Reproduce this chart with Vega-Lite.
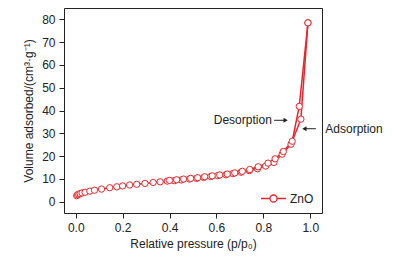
{
  "$schema": "https://vega.github.io/schema/vega-lite/v6.json",
  "width": 258,
  "height": 205,
  "autosize": {"type": "none"},
  "padding": {"left": 64, "top": 8, "right": 89, "bottom": 45},
  "background": "white",
  "config": {
    "font": "Liberation Sans",
    "view": {"stroke": "#222", "strokeWidth": 1},
    "axis": {
      "grid": false,
      "domain": false,
      "tickColor": "#222",
      "tickSize": 5,
      "labelOverlap": false,
      "labelFont": "Liberation Sans",
      "labelFontSize": 12,
      "labelColor": "#222",
      "titleFont": "Liberation Sans",
      "titleFontSize": 12,
      "titleFontWeight": "normal",
      "titleColor": "#222"
    },
    "axisY": {"tickCount": 9}
  },
  "datasets": {
    "iso": [
      {"b": "ads", "i": 1, "p": 0.004, "v": 2.6},
      {"b": "ads", "i": 2, "p": 0.008, "v": 3.0},
      {"b": "ads", "i": 3, "p": 0.013, "v": 3.3},
      {"b": "ads", "i": 4, "p": 0.019, "v": 3.5},
      {"b": "ads", "i": 5, "p": 0.027, "v": 3.8},
      {"b": "ads", "i": 6, "p": 0.04, "v": 4.1},
      {"b": "ads", "i": 7, "p": 0.06, "v": 4.6},
      {"b": "ads", "i": 8, "p": 0.08, "v": 5.0},
      {"b": "ads", "i": 9, "p": 0.11, "v": 5.5},
      {"b": "ads", "i": 10, "p": 0.145, "v": 6.1},
      {"b": "ads", "i": 11, "p": 0.175, "v": 6.5},
      {"b": "ads", "i": 12, "p": 0.2, "v": 6.9},
      {"b": "ads", "i": 13, "p": 0.23, "v": 7.3},
      {"b": "ads", "i": 14, "p": 0.26, "v": 7.6},
      {"b": "ads", "i": 15, "p": 0.295, "v": 8.0},
      {"b": "ads", "i": 16, "p": 0.33, "v": 8.4},
      {"b": "ads", "i": 17, "p": 0.36, "v": 8.7},
      {"b": "ads", "i": 18, "p": 0.39, "v": 9.0},
      {"b": "ads", "i": 19, "p": 0.42, "v": 9.2},
      {"b": "ads", "i": 20, "p": 0.45, "v": 9.5},
      {"b": "ads", "i": 21, "p": 0.485, "v": 9.9},
      {"b": "ads", "i": 22, "p": 0.515, "v": 10.2},
      {"b": "ads", "i": 23, "p": 0.545, "v": 10.6},
      {"b": "ads", "i": 24, "p": 0.575, "v": 11.0},
      {"b": "ads", "i": 25, "p": 0.605, "v": 11.4},
      {"b": "ads", "i": 26, "p": 0.64, "v": 11.8},
      {"b": "ads", "i": 27, "p": 0.67, "v": 12.3},
      {"b": "ads", "i": 28, "p": 0.705, "v": 12.9},
      {"b": "ads", "i": 29, "p": 0.74, "v": 13.6},
      {"b": "ads", "i": 30, "p": 0.775, "v": 14.4},
      {"b": "ads", "i": 31, "p": 0.81, "v": 15.6},
      {"b": "ads", "i": 32, "p": 0.845, "v": 17.2},
      {"b": "ads", "i": 33, "p": 0.88, "v": 20.8},
      {"b": "ads", "i": 34, "p": 0.918, "v": 25.2},
      {"b": "ads", "i": 35, "p": 0.96, "v": 36.2},
      {"b": "ads", "i": 36, "p": 0.99, "v": 78.5},
      {"b": "des", "i": 1, "p": 0.99, "v": 78.5},
      {"b": "des", "i": 2, "p": 0.953, "v": 41.8},
      {"b": "des", "i": 3, "p": 0.923, "v": 26.5},
      {"b": "des", "i": 4, "p": 0.885, "v": 22.0},
      {"b": "des", "i": 5, "p": 0.85, "v": 18.8},
      {"b": "des", "i": 6, "p": 0.82, "v": 16.9},
      {"b": "des", "i": 7, "p": 0.778, "v": 15.3},
      {"b": "des", "i": 8, "p": 0.742, "v": 14.1},
      {"b": "des", "i": 9, "p": 0.71, "v": 13.3},
      {"b": "des", "i": 10, "p": 0.678, "v": 12.6},
      {"b": "des", "i": 11, "p": 0.646, "v": 12.1},
      {"b": "des", "i": 12, "p": 0.614, "v": 11.7},
      {"b": "des", "i": 13, "p": 0.582, "v": 11.3},
      {"b": "des", "i": 14, "p": 0.55, "v": 10.9},
      {"b": "des", "i": 15, "p": 0.52, "v": 10.5},
      {"b": "des", "i": 16, "p": 0.49, "v": 10.2},
      {"b": "des", "i": 17, "p": 0.46, "v": 9.9},
      {"b": "des", "i": 18, "p": 0.43, "v": 9.6},
      {"b": "des", "i": 19, "p": 0.4, "v": 9.3}
    ],
    "des": [
      {"t": "Desorption", "p": 0.836, "v": 35.7, "p1": 0.846, "p2": 0.895}
    ],
    "ads": [
      {"t": "Adsorption", "p": 1.064, "v": 32.0, "p1": 1.024, "p2": 0.975}
    ]
  },
  "layer": [
    {
      "data": {"name": "iso"},
      "mark": {"type": "line", "strokeWidth": 1.5},
      "encoding": {
        "x": {
          "field": "p", "type": "quantitative",
          "scale": {"domain": [-0.05, 1.05], "nice": false, "zero": false},
          "axis": {"values": [0, 0.2, 0.4, 0.6, 0.8, 1.0], "format": ".1f", "title": "Relative pressure (p/p₀)", "labelPadding": 4, "titlePadding": 5}
        },
        "y": {
          "field": "v", "type": "quantitative",
          "scale": {"domain": [-5, 85], "nice": false, "zero": false},
          "axis": {"values": [0, 10, 20, 30, 40, 50, 60, 70, 80], "tickCount": 9, "title": "Volume adsorbed/(cm³·g⁻¹)", "labelPadding": 4, "titlePadding": 6}
        },
        "detail": {"field": "b"},
        "order": {"field": "i", "type": "quantitative"},
        "color": {
          "datum": "ZnO",
          "scale": {"range": ["#e8262a"]},
          "legend": {
            "title": null,
            "orient": "bottom-right",
            "offset": 8,
            "padding": 0,
            "symbolType": "M-1,0L-0.28,0M0.28,0L1,0M-0.28,0A0.28,0.28,0,1,1,0.28,0A0.28,0.28,0,1,1,-0.28,0",
            "symbolSize": 625,
            "symbolStrokeWidth": 1.3,
            "symbolStrokeColor": "#e8262a",
            "symbolFillColor": "white",
            "labelFontSize": 12,
            "labelColor": "#222",
            "labelOffset": 3
          }
        }
      }
    },
    {
      "data": {"name": "iso"},
      "mark": {"type": "point", "shape": "circle", "size": 40, "stroke": "#e8262a", "strokeWidth": 1, "fill": "white", "fillOpacity": 1, "filled": false},
      "encoding": {
        "x": {"field": "p", "type": "quantitative", "axis": {"values": [0, 0.2, 0.4, 0.6, 0.8, 1.0], "format": ".1f", "title": "Relative pressure (p/p₀)", "labelPadding": 4, "titlePadding": 5}},
        "y": {"field": "v", "type": "quantitative", "axis": {"values": [0, 10, 20, 30, 40, 50, 60, 70, 80], "tickCount": 9, "title": "Volume adsorbed/(cm³·g⁻¹)", "labelPadding": 4, "titlePadding": 6}}
      }
    },
    {
      "data": {"name": "des"},
      "layer": [
        {
          "mark": {"type": "rule", "color": "#222", "strokeWidth": 1},
          "encoding": {
            "x": {"field": "p1", "type": "quantitative", "axis": {"values": [0, 0.2, 0.4, 0.6, 0.8, 1.0], "format": ".1f", "title": "Relative pressure (p/p₀)", "labelPadding": 4, "titlePadding": 5}},
            "x2": {"field": "p2"},
            "y": {"field": "v", "type": "quantitative", "axis": {"values": [0, 10, 20, 30, 40, 50, 60, 70, 80], "tickCount": 9, "title": "Volume adsorbed/(cm³·g⁻¹)", "labelPadding": 4, "titlePadding": 6}}
          }
        },
        {
          "mark": {"type": "point", "shape": "triangle-right", "filled": true, "color": "#222", "size": 24, "opacity": 1},
          "encoding": {
            "x": {"field": "p2", "type": "quantitative", "axis": {"values": [0, 0.2, 0.4, 0.6, 0.8, 1.0], "format": ".1f", "title": "Relative pressure (p/p₀)", "labelPadding": 4, "titlePadding": 5}},
            "y": {"field": "v", "type": "quantitative", "axis": {"values": [0, 10, 20, 30, 40, 50, 60, 70, 80], "tickCount": 9, "title": "Volume adsorbed/(cm³·g⁻¹)", "labelPadding": 4, "titlePadding": 6}}
          }
        },
        {
          "mark": {"type": "text", "fontSize": 12, "color": "#222", "baseline": "middle", "align": "right", "font": "Liberation Sans"},
          "encoding": {
            "x": {"field": "p", "type": "quantitative", "axis": {"values": [0, 0.2, 0.4, 0.6, 0.8, 1.0], "format": ".1f", "title": "Relative pressure (p/p₀)", "labelPadding": 4, "titlePadding": 5}},
            "y": {"field": "v", "type": "quantitative", "axis": {"values": [0, 10, 20, 30, 40, 50, 60, 70, 80], "tickCount": 9, "title": "Volume adsorbed/(cm³·g⁻¹)", "labelPadding": 4, "titlePadding": 6}},
            "text": {"field": "t"}
          }
        }
      ]
    },
    {
      "data": {"name": "ads"},
      "layer": [
        {
          "mark": {"type": "rule", "color": "#222", "strokeWidth": 1},
          "encoding": {
            "x": {"field": "p1", "type": "quantitative", "axis": {"values": [0, 0.2, 0.4, 0.6, 0.8, 1.0], "format": ".1f", "title": "Relative pressure (p/p₀)", "labelPadding": 4, "titlePadding": 5}},
            "x2": {"field": "p2"},
            "y": {"field": "v", "type": "quantitative", "axis": {"values": [0, 10, 20, 30, 40, 50, 60, 70, 80], "tickCount": 9, "title": "Volume adsorbed/(cm³·g⁻¹)", "labelPadding": 4, "titlePadding": 6}}
          }
        },
        {
          "mark": {"type": "point", "shape": "triangle-left", "filled": true, "color": "#222", "size": 24, "opacity": 1},
          "encoding": {
            "x": {"field": "p2", "type": "quantitative", "axis": {"values": [0, 0.2, 0.4, 0.6, 0.8, 1.0], "format": ".1f", "title": "Relative pressure (p/p₀)", "labelPadding": 4, "titlePadding": 5}},
            "y": {"field": "v", "type": "quantitative", "axis": {"values": [0, 10, 20, 30, 40, 50, 60, 70, 80], "tickCount": 9, "title": "Volume adsorbed/(cm³·g⁻¹)", "labelPadding": 4, "titlePadding": 6}}
          }
        },
        {
          "mark": {"type": "text", "fontSize": 12, "color": "#222", "baseline": "middle", "align": "left", "font": "Liberation Sans"},
          "encoding": {
            "x": {"field": "p", "type": "quantitative", "axis": {"values": [0, 0.2, 0.4, 0.6, 0.8, 1.0], "format": ".1f", "title": "Relative pressure (p/p₀)", "labelPadding": 4, "titlePadding": 5}},
            "y": {"field": "v", "type": "quantitative", "axis": {"values": [0, 10, 20, 30, 40, 50, 60, 70, 80], "tickCount": 9, "title": "Volume adsorbed/(cm³·g⁻¹)", "labelPadding": 4, "titlePadding": 6}},
            "text": {"field": "t"}
          }
        }
      ]
    }
  ]
}
